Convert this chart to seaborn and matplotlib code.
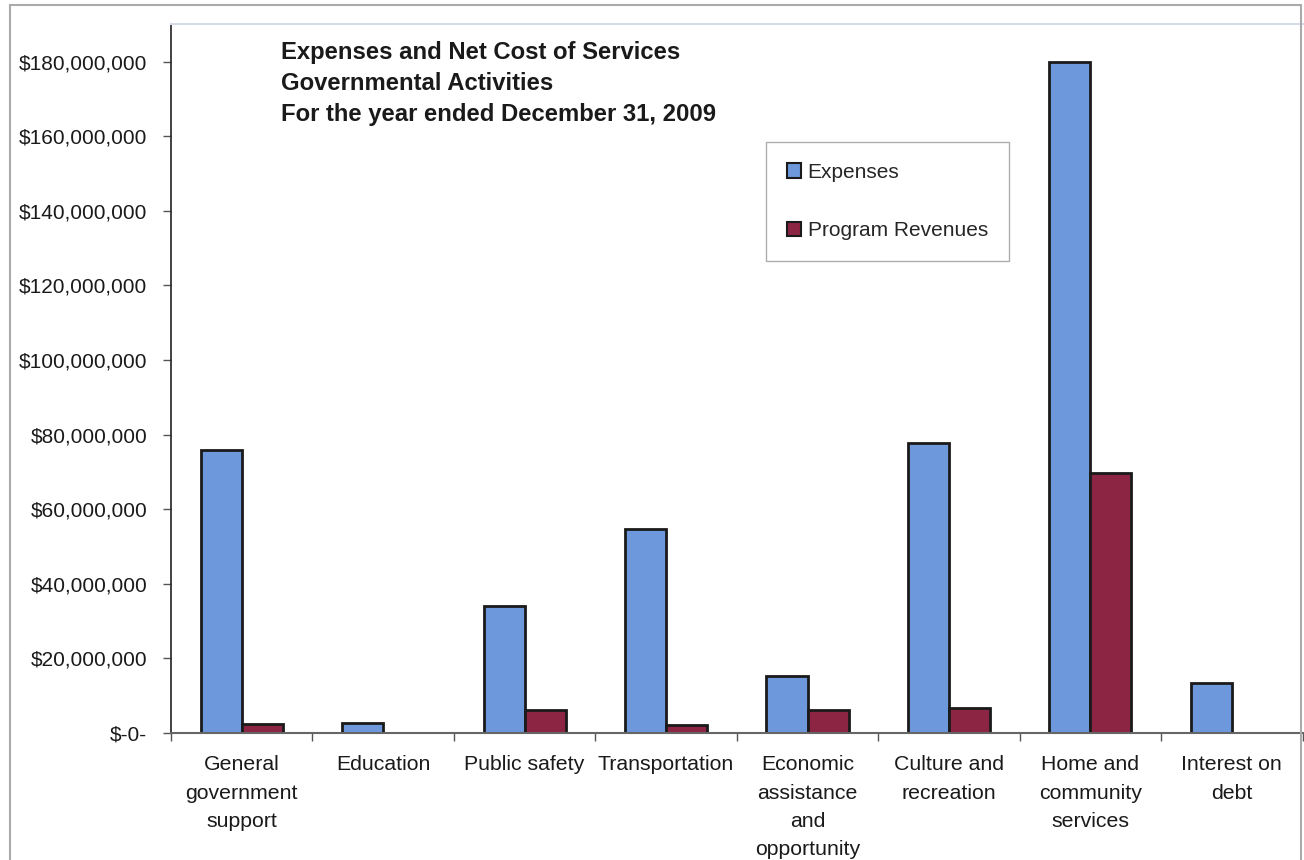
import matplotlib
matplotlib.use("Agg")
import matplotlib.pyplot as plt
import matplotlib.patches as mpatches
from matplotlib.ticker import FuncFormatter, FixedLocator
import seaborn as sns
import pandas as pd

categories = ["General\ngovernment\nsupport", "Education", "Public safety", "Transportation",
              "Economic\nassistance\nand\nopportunity", "Culture and\nrecreation",
              "Home and\ncommunity\nservices", "Interest on\ndebt"]
expenses = [76.0e6, 2.7e6, 34.0e6, 54.8e6, 15.4e6, 77.8e6, 179.8e6, 13.5e6]
program_revenues = [2.3e6, 0, 6.3e6, 2.2e6, 6.3e6, 6.7e6, 69.8e6, 0]
series = ["Expenses", "Program Revenues"]
title_lines = ["Expenses and Net Cost of Services", "Governmental Activities",
               "For the year ended December 31, 2009"]

df = pd.DataFrame({
    "category": categories * 2,
    "series": [series[0]] * len(categories) + [series[1]] * len(categories),
    "value": expenses + program_revenues,
})

sns.set_theme(style="white")
plt.rcParams["font.family"] = ["Liberation Sans", "DejaVu Sans"]

blue = "#6d98dc"
red = "#8c2444"

fig = plt.figure(figsize=(13.04, 8.6), dpi=100)
ax = fig.add_axes([171 / 1304, 1 - 733 / 860, 1 - 171 / 1304, (733 - 24) / 860])

sns.barplot(data=df, x="category", y="value", hue="series", order=categories,
            hue_order=series, palette=[blue, red], width=0.58, ax=ax,
            edgecolor="#1a1a1a", linewidth=2.0, legend=False, saturation=1)

for p in ax.patches:
    if p.get_height() == 0:
        p.set_linewidth(0)

ax.set_xlim(-0.5, len(categories) - 0.5 + 0.01)
ax.set_ylim(0, 190.1e6)
ax.set_xlabel("")
ax.set_ylabel("")

yt = [i * 20e6 for i in range(10)]
ax.set_yticks(yt)
ax.yaxis.set_major_formatter(FuncFormatter(lambda v, p: "$-0-" if v == 0 else "${:,.0f}".format(v)))
ax.tick_params(axis="y", which="major", direction="out", length=6, width=1, color="#555555",
               labelsize=15, pad=11, labelcolor="#1a1a1a", left=True)

ax.xaxis.set_minor_locator(FixedLocator([i - 0.5 for i in range(len(categories) + 1)]))
ax.tick_params(axis="x", which="minor", direction="out", length=6, width=1, color="#555555", bottom=True)
ax.tick_params(axis="x", which="major", length=0, labelsize=15.3, pad=16, labelcolor="#1a1a1a")
for lab in ax.get_xticklabels():
    lab.set_ha("center")
    lab.set_multialignment("center")
    lab.set_linespacing(1.62)

ax.spines["right"].set_visible(False)
ax.spines["top"].set_color("#d5dce6")
ax.spines["top"].set_linewidth(1.5)
ax.spines["left"].set_color("#222222")
ax.spines["left"].set_linewidth(1.2)
ax.spines["bottom"].set_color("#666666")
ax.spines["bottom"].set_linewidth(1.5)

for i, line in enumerate(title_lines):
    fig.text(281 / 1304, 1 - (53 + i * 31) / 860, line, fontsize=17.2, fontweight="bold",
             color="#1a1a1a", va="center", ha="left")

handles = [mpatches.Patch(facecolor=blue, edgecolor="#1a1a1a", linewidth=1.5, label=series[0]),
           mpatches.Patch(facecolor=red, edgecolor="#1a1a1a", linewidth=1.5, label=series[1])]
leg = fig.legend(handles=handles, loc="upper left", bbox_to_anchor=(766 / 1304, 1 - 142 / 860),
                 fontsize=15, frameon=True, fancybox=False, shadow=False, labelspacing=1.9,
                 handlelength=0.7, handleheight=0.7, handletextpad=0.3, borderpad=1.0,
                 borderaxespad=0)
leg.get_frame().set_edgecolor("#999999")
leg.get_frame().set_linewidth(1.0)

border = mpatches.Rectangle((10 / 1304, -0.1), (1301 - 10) / 1304, 1.1 - 5 / 860,
                            transform=fig.transFigure, fill=False, edgecolor="#aaaaaa",
                            linewidth=1.5)
fig.patches.append(border)

fig.savefig("out.png", dpi=100)
